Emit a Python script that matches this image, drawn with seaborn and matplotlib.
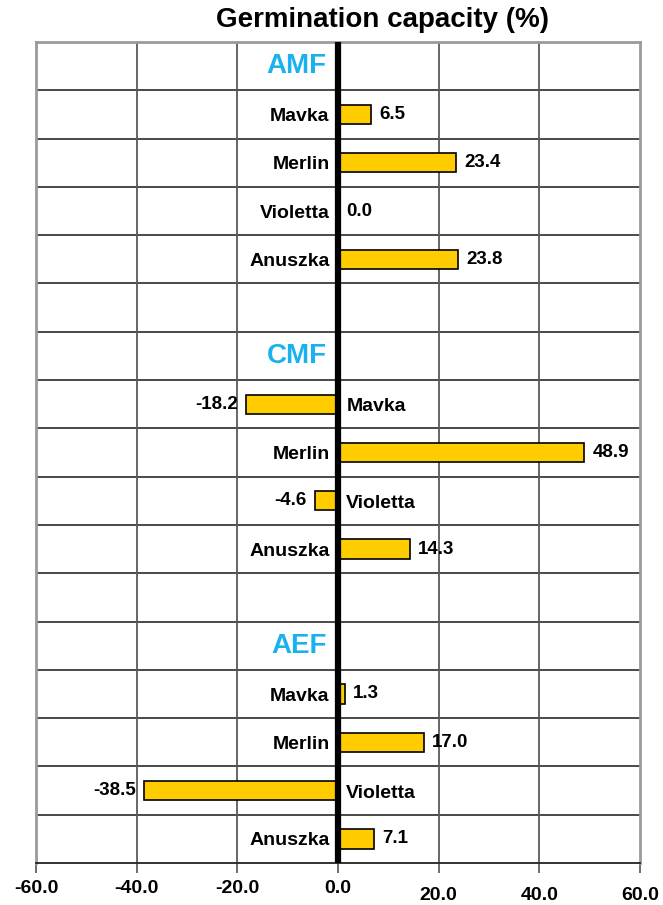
import numpy as np
import pandas as pd
import matplotlib
matplotlib.use("Agg")
import matplotlib.pyplot as plt
import matplotlib.transforms as mtransforms
import seaborn as sns

# ---- data ----
groups = ["AMF", "CMF", "AEF"]
cultivars = ["Mavka", "Merlin", "Violetta", "Anuszka"]
amf_values = [6.5, 23.4, 0.0, 23.8]
cmf_values = [-18.2, 48.9, -4.6, 14.3]
aef_values = [1.3, 17.0, -38.5, 7.1]
x_ticks = [-60, -40, -20, 0, 20, 40, 60]
title = "Germination capacity (%)"

group_values = [amf_values, cmf_values, aef_values]

# build row order: header, 4 cultivars, blank (except after last group)
order = []
records = []
for gi, g in enumerate(groups):
    order.append(f"{g}|header")
    for c, v in zip(cultivars, group_values[gi]):
        key = f"{g}|{c}"
        order.append(key)
        records.append({"row": key, "value": v, "group": g, "cultivar": c})
    if gi < len(groups) - 1:
        order.append(f"{g}|blank")
df = pd.DataFrame(records)

sns.set_theme(style="white")
plt.rcParams["font.family"] = ["Liberation Sans", "DejaVu Sans"]
plt.rcParams["text.color"] = "black"
plt.rcParams["xtick.color"] = "black"

fig = plt.figure(figsize=(6.63, 9.05), dpi=100)
ax = fig.add_axes([36 / 663, 1 - 863 / 905, (640 - 36) / 663, (863 - 42) / 905])

sns.barplot(data=df, x="value", y="row", order=order, orient="h",
            color="#FFCC00", edgecolor="black", linewidth=1.2,
            width=0.4, saturation=1, ax=ax, errorbar=None, zorder=3)

n = len(order)
ax.set_xlim(-60, 60)
ax.set_ylim(n - 0.5, -0.5)

# grid
for yb in np.arange(0.5, n - 0.5, 1):
    ax.axhline(yb, color="#3a3a3a", lw=1.3, zorder=1)
for xv in x_ticks:
    if xv not in (-60, 0, 60):
        ax.axvline(xv, color="#5a5a5a", lw=1.3, zorder=1)
ax.axvline(0, color="black", lw=4.5, zorder=4)

for side in ["left", "right", "top"]:
    ax.spines[side].set_color("#9a9a9a")
    ax.spines[side].set_linewidth(2)
ax.spines["bottom"].set_color("#222222")
ax.spines["bottom"].set_linewidth(1.3)

ax.set_xticks(x_ticks)
ax.set_xticklabels([f"{t:.1f}" for t in x_ticks], fontsize=14, fontweight="bold",
                   color="black")
ax.tick_params(axis="x", bottom=True, length=7, width=1.2, color="#555555",
               labelcolor="black", pad=5)
ax.set_yticks([])
ax.set_xlabel("")
ax.set_ylabel("")
# positive tick labels slightly lower (staggered as in reference)
for t, lbl in zip(x_ticks, ax.get_xticklabels()):
    if t > 0:
        lbl.set_transform(lbl.get_transform() +
                          mtransforms.ScaledTranslation(0, -5 / 72, fig.dpi_scale_trans))

# annotations
pad_pts = 6
for gi, g in enumerate(groups):
    hrow = order.index(f"{g}|header")
    ax.annotate(g, (0, hrow), xytext=(-8, 0), textcoords="offset points",
                ha="right", va="center", fontsize=20, fontweight="bold",
                color="#19B2EE", zorder=5)
    for c, v in zip(cultivars, group_values[gi]):
        r = order.index(f"{g}|{c}")
        if v >= 0:
            ax.annotate(c, (0, r), xytext=(-pad_pts, -1.5), textcoords="offset points",
                        ha="right", va="center", fontsize=14, fontweight="bold",
                        color="black", zorder=5)
            ax.annotate(f"{v:.1f}", (v, r), xytext=(pad_pts, 0), textcoords="offset points",
                        ha="left", va="center", fontsize=13.5, fontweight="bold",
                        color="black", zorder=5)
        else:
            ax.annotate(c, (0, r), xytext=(pad_pts, -2), textcoords="offset points",
                        ha="left", va="center", fontsize=14, fontweight="bold",
                        color="black", zorder=5)
            ax.annotate(f"{v:.1f}".replace("\u2212", "-"), (v, r), xytext=(-pad_pts, 0),
                        textcoords="offset points", ha="right", va="center",
                        fontsize=13.5, fontweight="bold", color="black", zorder=5)

fig.text(383 / 663, 1 - 20 / 905, title, ha="center", va="center",
         fontsize=20, fontweight="bold", color="black")

fig.savefig("out.png", dpi=100, facecolor="white")
